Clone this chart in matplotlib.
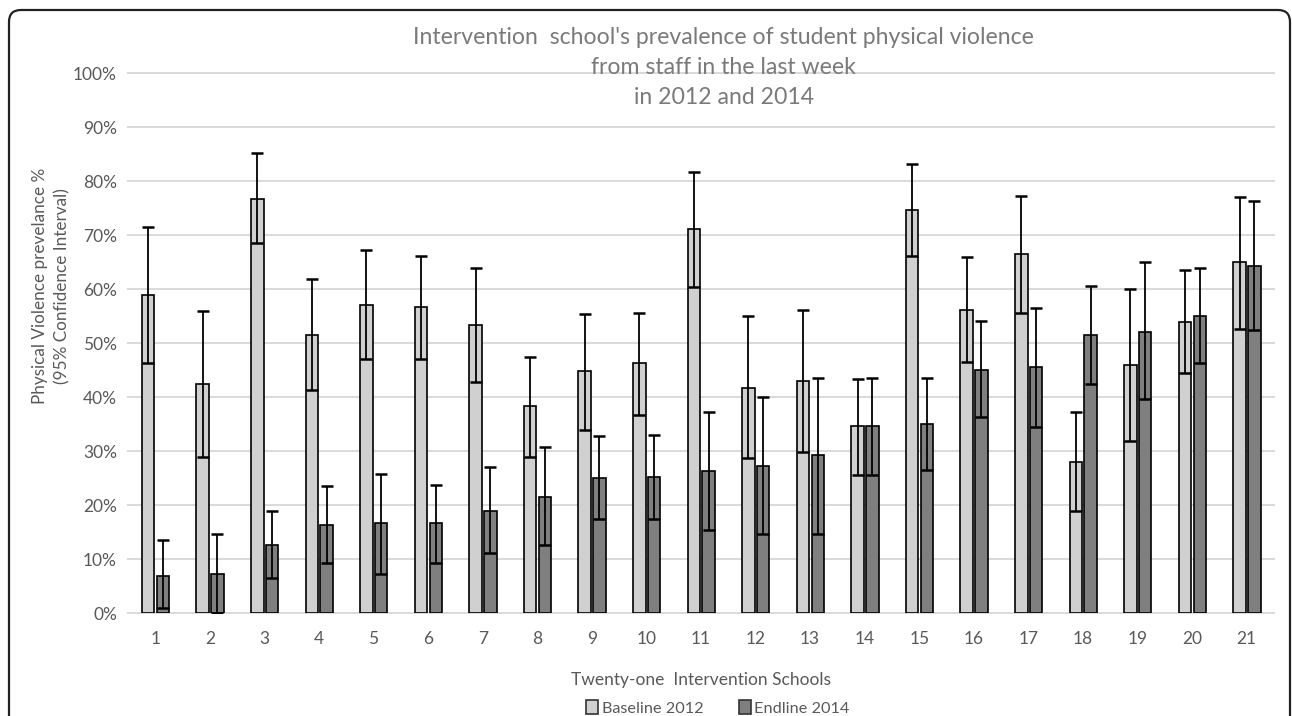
import numpy as np
import matplotlib
matplotlib.use("Agg")
import matplotlib.pyplot as plt
from matplotlib.patches import Patch, FancyBboxPatch

plt.rcParams['font.family'] = ['Lato', 'DejaVu Sans']

# data (prevalence %, 95% CI)
schools = [str(i) for i in range(1, 22)]
baseline = [59.0, 42.5, 76.7, 51.6, 57.1, 56.8, 53.3, 38.4, 44.8, 46.3, 71.1,
            41.8, 43.1, 34.6, 74.7, 56.2, 66.5, 28.0, 46.0, 53.9, 65.0]
base_lo = [46.3, 29.0, 68.5, 41.3, 47.1, 47.1, 42.8, 29.0, 34.0, 36.8, 60.4,
           28.8, 29.9, 25.7, 66.2, 46.5, 55.7, 18.9, 31.9, 44.5, 52.7]
base_hi = [71.5, 56.0, 85.2, 61.9, 67.2, 66.2, 64.0, 47.5, 55.4, 55.7, 81.7,
           55.1, 56.2, 43.3, 83.2, 65.9, 77.3, 37.2, 60.0, 63.6, 77.0]
endline = [7.0, 7.3, 12.6, 16.4, 16.7, 16.7, 19.0, 21.6, 25.1, 25.2, 26.3,
           27.2, 29.3, 34.6, 35.1, 45.0, 45.7, 51.5, 52.1, 55.0, 64.4]
end_lo = [0.9, 0.0, 6.5, 9.4, 7.3, 9.4, 11.1, 12.6, 17.5, 17.5, 15.5,
          14.6, 14.6, 25.7, 26.6, 36.3, 34.5, 42.5, 39.6, 46.3, 52.4]
end_hi = [13.5, 14.7, 19.0, 23.5, 25.8, 23.7, 27.0, 30.8, 32.8, 33.0, 37.2,
          40.1, 43.6, 43.6, 43.6, 54.2, 56.5, 60.7, 65.0, 63.9, 76.3]
series = ["Baseline 2012", "Endline 2014"]
title_lines = ["Intervention  school's prevalence of student physical violence",
               "from staff in the last week",
               "in 2012 and 2014"]

W, H = 1292, 716
fig = plt.figure(figsize=(W / 100, H / 100), dpi=100)
ax = fig.add_axes([128 / W, (H - 613.3) / H, (1274 - 128) / W, (613.3 - 73.3) / H])

x = np.arange(len(schools))
bw = 0.23
colors = ['#d0d0d0', '#7f7f7f']
groups = [(baseline, base_lo, base_hi, -0.13), (endline, end_lo, end_hi, 0.14)]

for (vals, lo, hi, off), c in zip(groups, colors):
    vals = np.array(vals)
    err = [vals - np.array(lo), np.array(hi) - vals]
    ax.bar(x + off, vals, width=bw, color=c, edgecolor='black', linewidth=1.2, zorder=2)
    ax.errorbar(x + off, vals, yerr=err, fmt='none', ecolor='black',
                elinewidth=1.3, capsize=4.4, capthick=1.8, zorder=3)

ax.set_xlim(-0.5, len(schools) - 0.5)
ax.set_ylim(0, 100)
ax.set_yticks(np.arange(0, 101, 10))
ax.set_yticklabels([f"{v}%" for v in range(0, 101, 10)])
ax.set_xticks(x)
ax.set_xticklabels(schools)
ax.tick_params(axis='both', length=0, labelsize=12.5, labelcolor='#595959')
ax.tick_params(axis='x', pad=13)
ax.tick_params(axis='y', pad=8)
ax.yaxis.grid(True, color='#d9d9d9', linewidth=1.4, zorder=0)
for gl in ax.get_ygridlines():
    gl.set_clip_on(False)
ax.set_axisbelow(True)
for s in ax.spines.values():
    s.set_visible(False)

ax.set_xlabel("Twenty-one  Intervention Schools", fontsize=12.5, color='#595959')
ax.xaxis.set_label_coords(0.5, (613.3 - 680) / 540)
ax.xaxis.label.set_va('center')
ax.set_ylabel("Physical Violence prevelance %\n(95% Confidence Interval)",
              fontsize=12.3, color='#595959', linespacing=1.45)
ax.yaxis.set_label_coords((51.5 - 128) / 1146, (613.3 - 286) / 540)
ax.yaxis.label.set_va('center')

for i, line in enumerate(title_lines):
    fig.text(723.5 / W, 1 - (37 + 30.5 * i) / H, line, ha='center', va='center',
             fontsize=16.6, color='#7a7a7a', zorder=5)

handles = [Patch(facecolor=c, edgecolor='#333333', linewidth=1.2) for c in colors]
fig.legend(handles, series, loc='center', bbox_to_anchor=(718 / W, 1 - 708 / H),
           ncol=2, frameon=False, fontsize=11.7, labelcolor='#595959',
           handlelength=0.75, handleheight=0.9, handletextpad=0.2, columnspacing=2.2)

frame = FancyBboxPatch((9 / 100, -0.5), (1290 - 9) / 100, (H - 10) / 100 + 0.5,
                       boxstyle="round,pad=0,rounding_size=0.12",
                       transform=fig.dpi_scale_trans, facecolor='none',
                       edgecolor='#222222', linewidth=1.6, clip_on=False)
fig.patches.append(frame)

fig.savefig("out.png", dpi=100)
